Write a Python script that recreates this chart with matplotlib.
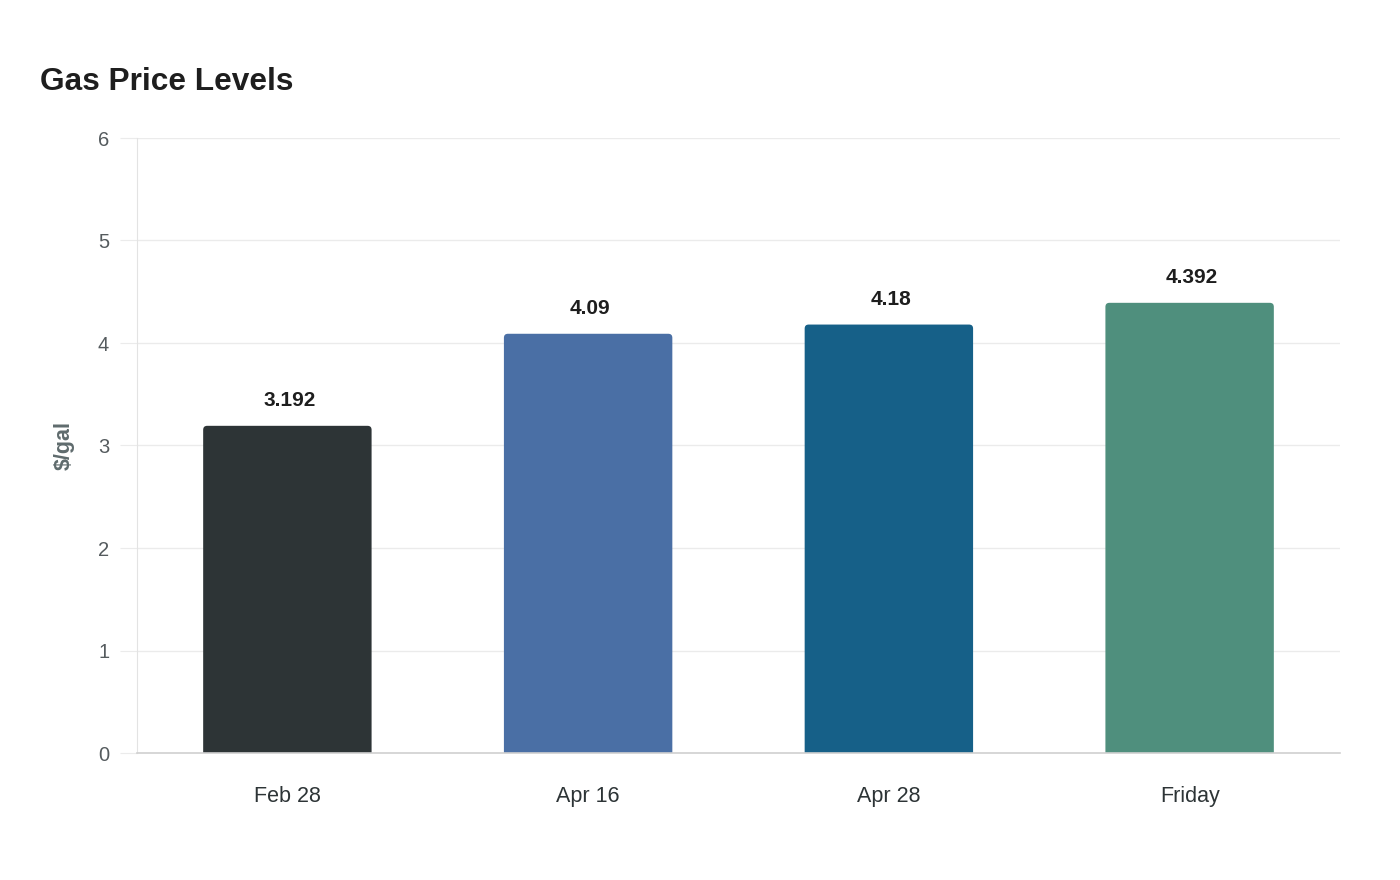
import matplotlib
matplotlib.use("Agg")
import matplotlib.pyplot as plt
from matplotlib.patches import FancyBboxPatch

categories = ["Feb 28", "Apr 16", "Apr 28", "Friday"]
values = [3.192, 4.09, 4.18, 4.392]
labels = ["3.192", "4.09", "4.18", "4.392"]
colors = ["#2d3436", "#4a6fa5", "#166088", "#4f8f7d"]

plt.rcParams['font.family'] = ['Liberation Sans', 'DejaVu Sans']

fig = plt.figure(figsize=(14, 8.8), dpi=100)
ax = fig.add_axes([137/1400, 1-753/880, (1340-137)/1400, (753-138)/880])

ax.set_xlim(-0.5, 3.5)
ax.set_ylim(0, 6)

bw = 0.56
bars = ax.bar(range(len(categories)), values, width=bw, color=colors)
# replace with rounded-top bars
for b, c in zip(bars, colors):
    b.set_visible(False)
    x0 = b.get_x()
    h = b.get_height()
    px_x = 4.0 / 1203
    px_y = 6.0 / 615
    r = 4 * px_x
    p = FancyBboxPatch((x0, -0.2), bw, h + 0.2,
                       boxstyle=f"round,pad=0,rounding_size={r}",
                       mutation_aspect=px_y / px_x,
                       facecolor=c, edgecolor='none', zorder=2)
    ax.add_patch(p)

for i, (v, t) in enumerate(zip(values, labels)):
    ax.annotate(t, (i, v), xytext=(1.5, 18.2), textcoords='offset points',
                ha='center', va='center', fontsize=15, fontweight='bold',
                color='#1e1e1e')

ax.set_yticks(range(0, 7))
ax.set_xticks(range(len(categories)))
ax.set_xticklabels(categories)
ax.grid(axis='y', color='#ebebeb', linewidth=1, zorder=0)
ax.set_axisbelow(True)

for s in ['top', 'right']:
    ax.spines[s].set_visible(False)
ax.spines['left'].set_color('#e3e3e3')
ax.spines['bottom'].set_color('#d0d0d0')
ax.spines['bottom'].set_linewidth(1.2)

ax.tick_params(axis='y', length=12, color='#ebebeb', labelsize=14.5,
               labelcolor='#555b5e', pad=8)
ax.tick_params(axis='x', length=0, labelsize=15.5, labelcolor='#2d3436', pad=24)

ax.set_ylabel("$/gal", fontsize=15.5, fontweight='bold', color='#5f6b6d', labelpad=17)

fig.text(40/1400, 1-82/880, "Gas Price Levels", fontsize=22.8, fontweight='bold',
         color='#1e1e1e', ha='left', va='center')

fig.savefig("out.png", dpi=100, facecolor='white')
